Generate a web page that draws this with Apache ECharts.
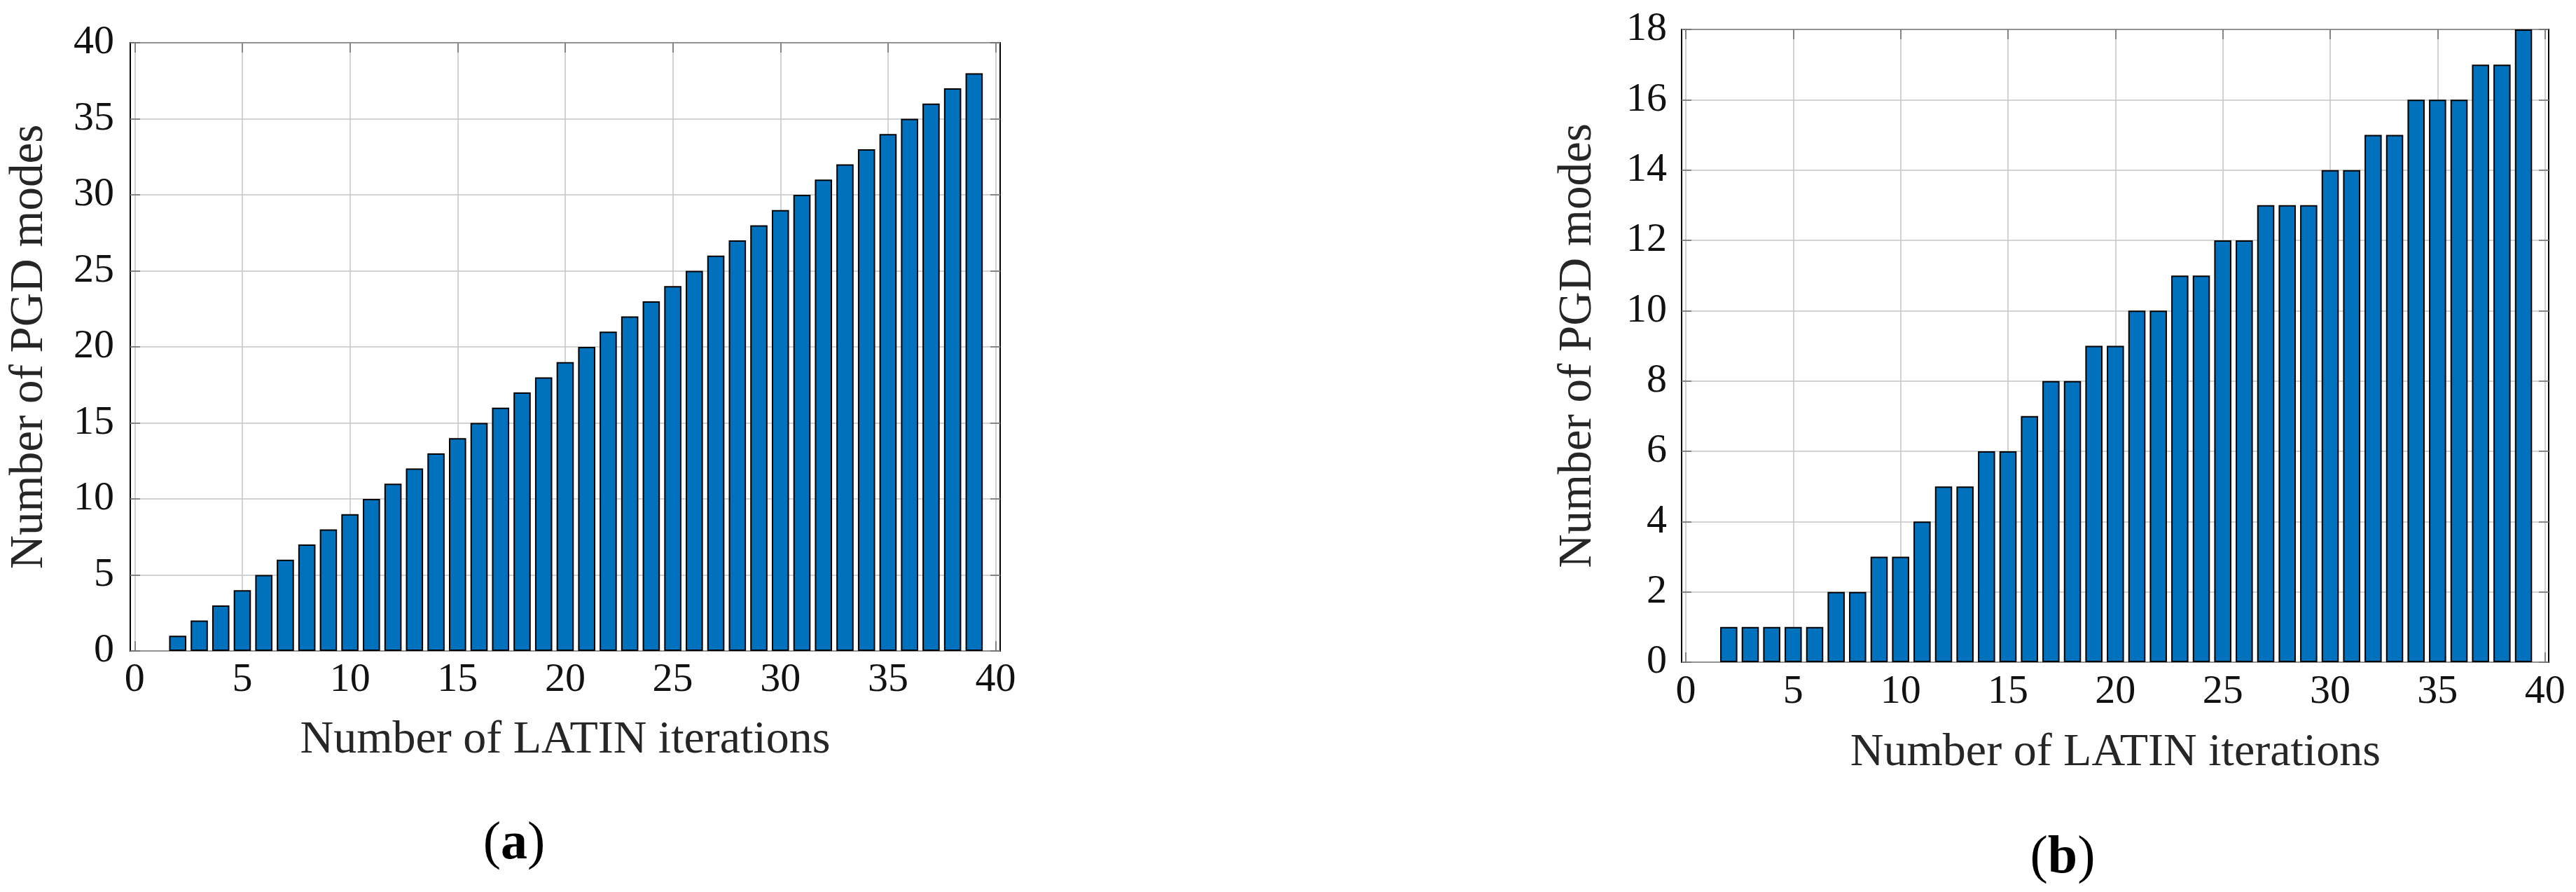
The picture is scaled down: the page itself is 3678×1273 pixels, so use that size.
<!DOCTYPE html>
<html><head><meta charset="utf-8">
<script src="https://cdn.jsdelivr.net/npm/echarts@6/dist/echarts.min.js"></script>
<style>html,body{margin:0;padding:0;background:#fff}#c{width:3678px;height:1273px}</style>
</head><body><div id="c"></div><script>
// ---- data ----
const iterations = [1,2,3,4,5,6,7,8,9,10,11,12,13,14,15,16,17,18,19,20,21,22,23,24,25,26,27,28,29,30,31,32,33,34,35,36,37,38,39];
const modesA = [0,1,2,3,4,5,6,7,8,9,10,11,12,13,14,15,16,17,18,19,20,21,22,23,24,25,26,27,28,29,30,31,32,33,34,35,36,37,38];
const modesB = [0,1,1,1,1,1,2,2,3,3,4,5,5,6,6,7,8,8,9,9,10,10,11,11,12,12,13,13,13,14,14,15,15,16,16,16,17,17,18];
const xTicks = [0,5,10,15,20,25,30,35,40];
const yTicksA = [0,5,10,15,20,25,30,35,40];
const yTicksB = [0,2,4,6,8,10,12,14,16,18];
const xLabel = 'Number of LATIN iterations';
const yLabel = 'Number of PGD modes';
const panelTags = ['a','b'];

const FONT = 'Liberation Serif';
const TICK_COLOR = '#6e6e6e';
const GRID_COLOR = '#c4c4c4';

const chart = echarts.init(document.getElementById('c'), null, {renderer:'canvas'});

const grids = [], xAxes = [], yAxes = [], series = [];

function panel(cfg, values, yTicks) {
  const gFrame = grids.length;
  const gData = gFrame + 1;
  // frame grid (slightly wider than data range, like MATLAB's axes limits)
  grids.push({left: cfg.frameLeft, top: cfg.top, width: cfg.frameWidth, height: cfg.height,
    show: true, borderColor: '#000', borderWidth: 2, backgroundColor: 'transparent', containLabel: false});
  // data grid: exactly xTicks range
  grids.push({left: cfg.dataLeft, top: cfg.top, width: cfg.dataWidth, height: cfg.height, containLabel: false});

  const yMin = yTicks[0], yMax = yTicks[yTicks.length-1], yInt = yTicks[1]-yTicks[0];
  const xMin = xTicks[0], xMax = xTicks[xTicks.length-1], xInt = xTicks[1]-xTicks[0];

  // frame grid axes
  xAxes.push({gridIndex: gFrame, type: 'value', min: 0, max: 1, show: false});
  yAxes.push({gridIndex: gFrame, type: 'value', position: 'left', min: yMin, max: yMax, interval: yInt,
    axisLine: {show: false},
    axisTick: {show: true, inside: true, length: 14, lineStyle: {color: TICK_COLOR, width: 1.5}},
    axisLabel: {show: true, margin: cfg.yLabelMargin, fontFamily: FONT, fontSize: 58, lineHeight: 58, color: '#111'},
    splitLine: {show: true, lineStyle: {color: GRID_COLOR, width: 1.5}},
    name: yLabel, nameLocation: 'middle', nameGap: cfg.yNameGap, nameRotate: 90,
    nameTextStyle: {fontFamily: FONT, fontSize: 67, lineHeight: 66, color: '#262626'}
  });
  yAxes.push({gridIndex: gFrame, type: 'value', position: 'right', min: yMin, max: yMax, interval: yInt,
    axisLine: {show: false},
    axisTick: {show: true, inside: true, length: 14, lineStyle: {color: TICK_COLOR, width: 1.5}},
    axisLabel: {show: false}, splitLine: {show: false}
  });
  // data grid axes
  xAxes.push({gridIndex: gData, type: 'value', position: 'bottom', min: xMin, max: xMax, interval: xInt,
    axisLine: {show: false},
    axisTick: {show: true, inside: true, length: 14, lineStyle: {color: TICK_COLOR, width: 1.5}},
    axisLabel: {show: true, margin: cfg.xLabelMargin, fontFamily: FONT, fontSize: 58, lineHeight: 58, color: '#111'},
    splitLine: {show: true, lineStyle: {color: GRID_COLOR, width: 1.5}},
    name: xLabel, nameLocation: 'middle', nameGap: cfg.xNameGap,
    nameTextStyle: {fontFamily: FONT, fontSize: 66, lineHeight: 66, color: '#262626'}
  });
  xAxes.push({gridIndex: gData, type: 'value', position: 'top', min: xMin, max: xMax, interval: xInt,
    axisLine: {show: false},
    axisTick: {show: true, inside: true, length: 14, lineStyle: {color: TICK_COLOR, width: 1.5}},
    axisLabel: {show: false}, splitLine: {show: false}
  });
  const yData = yAxes.length;
  yAxes.push({gridIndex: gData, type: 'value', min: yMin, max: yMax, show: false, splitLine: {show: false}});

  series.push({
    type: 'bar',
    xAxisIndex: xAxes.length - 2,
    yAxisIndex: yData,
    barWidth: '80%',
    // zero-height bars are invisible in the original, so leave them empty
    data: iterations.map((it, i) => [it, values[i] > 0 ? values[i] : '-']),
    itemStyle: {color: '#0072BD', borderColor: '#000', borderWidth: 2},
    silent: true,
    animation: false
  });
}

panel({frameLeft: 186, frameWidth: 1242, dataLeft: 192.3, dataWidth: 1229.3, top: 61, height: 868,
       yLabelMargin: 23, xLabelMargin: 13, yNameGap: 111, xNameGap: 95}, modesA, yTicksA);
panel({frameLeft: 2401, frameWidth: 1238, dataLeft: 2407, dataWidth: 1226.7, top: 42, height: 903,
       yLabelMargin: 21, xLabelMargin: 14, yNameGap: 115, xNameGap: 97}, modesB, yTicksB);

const tagStyle = {fontFamily: FONT, fontSize: 76, fill: '#000', align: 'center', verticalAlign: 'middle',
  rich: {b: {fontFamily: FONT, fontSize: 76, fontWeight: 'bold', fill: '#000'}}};

chart.setOption({
  animation: false,
  backgroundColor: '#fff',
  grid: grids,
  xAxis: xAxes,
  yAxis: yAxes,
  series: series,
  graphic: [
    {type: 'text', x: 734, y: 1205, style: Object.assign({}, tagStyle, {text: '({b|' + panelTags[0] + '})'})},
    {type: 'text', x: 2945, y: 1225, style: Object.assign({}, tagStyle, {text: '({b|' + panelTags[1] + '})'})}
  ]
});
</script></body></html>
